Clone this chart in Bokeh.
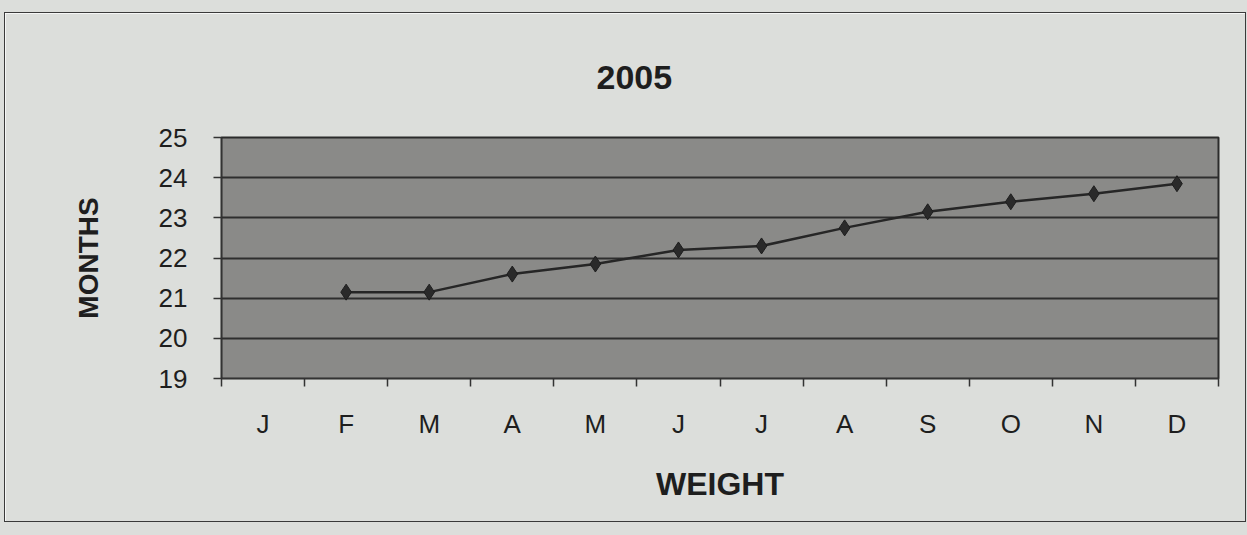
import math
from bokeh.plotting import figure
from bokeh.models import FixedTicker, Range1d, ColumnDataSource, Title
from bokeh.embed import file_html
from bokeh.resources import INLINE

# ---- data ----
month_labels = ["J", "F", "M", "A", "M", "J", "J", "A", "S", "O", "N", "D"]
month_pos = [1, 2, 3, 4, 5, 6, 7, 8, 9, 10, 11, 12]
values = [float("nan"), 21.15, 21.15, 21.6, 21.85, 22.2, 22.3, 22.75, 23.15, 23.4, 23.6, 23.85]
y_ticks = [19, 20, 21, 22, 23, 24, 25]
title_text = "2005"
x_title = "WEIGHT"
y_title = "MONTHS"

src = ColumnDataSource(dict(x=month_pos, y=values))

W, H = 1242, 510
p = figure(width=W, height=H, output_backend="svg", toolbar_location=None,
           x_range=Range1d(0.5, 12.5), y_range=Range1d(19, 25),
           min_border_left=216, min_border_right=29,
           min_border_top=124, min_border_bottom=145)

BG = "#dcdedb"
p.border_fill_color = BG
p.background_fill_color = "#8a8a88"
p.outline_line_color = "#2b2b2b"
p.outline_line_width = 2
p.styles = {"border": "1.5px solid #3a3a3a",
            "margin": "12px 0px 0px 4px",
            "box-shadow": "0 0 0 60px #dcdedb"}

# title
t = Title(text=title_text, align="left", offset=375, standoff=97,
          text_font="Liberation Sans", text_font_size="34px",
          text_font_style="bold", text_color="#1e1e1e")
p.add_layout(t, "above")

# x axis
xa = p.below[0]
xa.ticker = FixedTicker(ticks=month_pos,
                        minor_ticks=[m + 0.5 for m in [0] + month_pos])
xa.major_label_overrides = {m: l for m, l in zip(month_pos, month_labels)}
xa.major_tick_in = 0
xa.major_tick_out = 0
xa.minor_tick_in = 0
xa.minor_tick_out = 8
xa.minor_tick_line_color = "#333333"
xa.minor_tick_line_width = 1.5
xa.axis_line_color = "#333333"
xa.major_label_standoff = 22
xa.major_label_text_font = "Liberation Sans"
xa.major_label_text_font_size = "26px"
xa.major_label_text_color = "#1e1e1e"
xa.axis_label = x_title
xa.axis_label_text_font = "Liberation Sans"
xa.axis_label_text_font_size = "32px"
xa.axis_label_text_font_style = "bold"
xa.axis_label_text_color = "#1e1e1e"
xa.axis_label_standoff = 24

# y axis
ya = p.left[0]
ya.ticker = FixedTicker(ticks=y_ticks)
ya.major_tick_in = 0
ya.major_tick_out = 8
ya.major_tick_line_color = "#333333"
ya.major_tick_line_width = 1.5
ya.minor_tick_out = 0
ya.minor_tick_in = 0
ya.axis_line_color = "#333333"
ya.major_label_standoff = 26
ya.major_label_text_font = "Liberation Sans"
ya.major_label_text_font_size = "26px"
ya.major_label_text_color = "#1e1e1e"
ya.axis_label = y_title
ya.axis_label_text_font = "Liberation Sans"
ya.axis_label_text_font_size = "28px"
ya.axis_label_text_font_style = "bold"
ya.axis_label_text_color = "#1e1e1e"
ya.axis_label_standoff = 52

# grid
p.xgrid.visible = False
p.ygrid.ticker = FixedTicker(ticks=y_ticks)
p.ygrid.grid_line_color = "#2e2e2e"
p.ygrid.grid_line_width = 2

# series
p.line("x", "y", source=src, line_color="#262626", line_width=2.5)
p.scatter("x", "y", source=src, marker="diamond", size=16,
          fill_color="#2a2a2a", line_color="#1e1e1e")

open("out.html", "w").write(file_html(p, INLINE))
